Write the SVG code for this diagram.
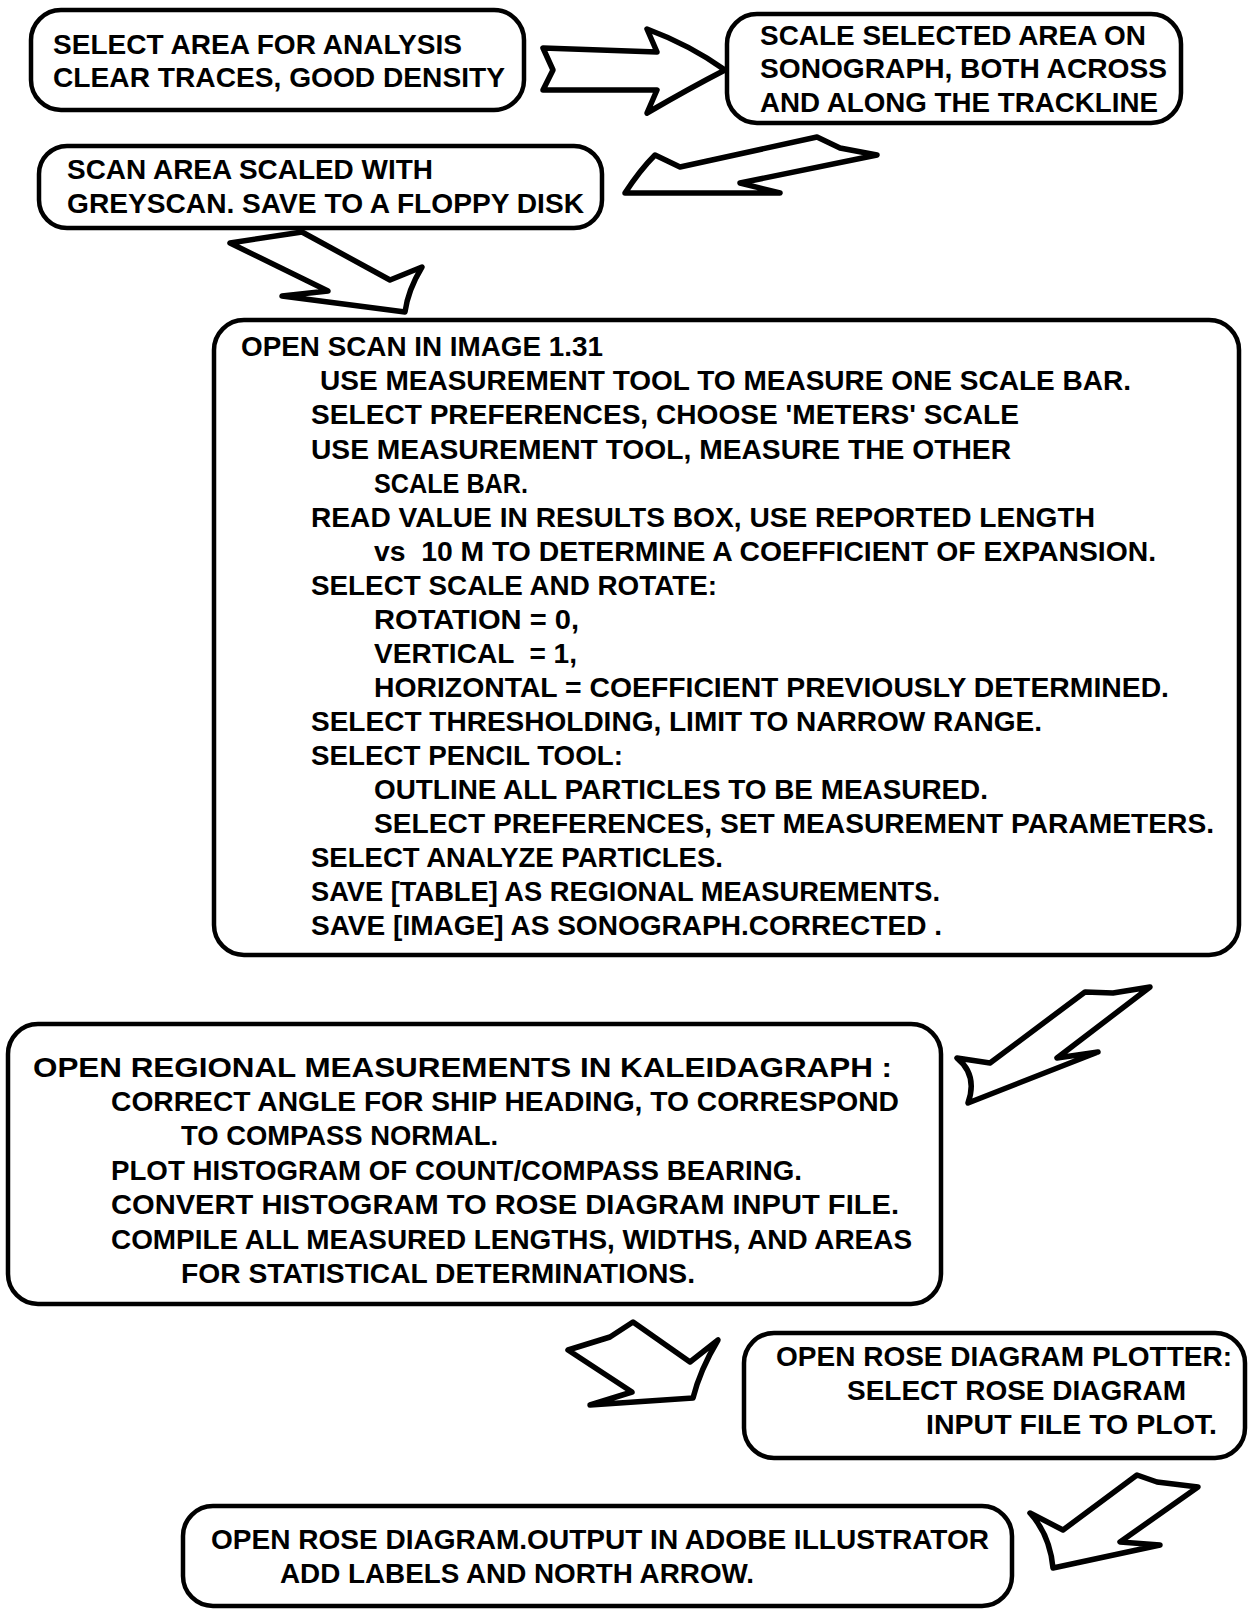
<svg xmlns="http://www.w3.org/2000/svg" width="1253" height="1610" viewBox="0 0 1253 1610">
<style>
.box{fill:#fff;stroke:#000;stroke-width:4.5}
.t{font-family:"Liberation Sans",Arial,sans-serif;font-weight:bold;font-size:28px;fill:#000}
.arr{fill:#fff;stroke:#000;stroke-width:5.5;stroke-linejoin:round}
</style>
<rect width="1253" height="1610" fill="#fff"/>
<g id="connectors">
<path class="arr" d="M543,48 L657,52 L647,29 Q690,45 725,70 Q690,88 647,113 L657,90 L543,90 L553,70 Z"/>
<path class="arr" d="M625,193 Q640,170 655,155 L680,167 L817,137 L840,148 L877,155 L740,183 L780,193 Z"/>
<path class="arr" d="M230,243 L302,232 L390,280 L422,267 Q408,290 405,312 L282,296 L328,291 Z"/>
<path class="arr" d="M968,1103 Q978,1075 957,1058 L990,1063 L1085,992 L1113,993 L1150,987 L1057,1058 L1098,1052 Z"/>
<path class="arr" d="M568,1350 L610,1337 L633,1322 L690,1362 L718,1340 Q700,1370 693,1398 L590,1405 L632,1392 Z"/>
<path class="arr" d="M1030,1513 L1063,1530 L1137,1475 L1157,1482 L1198,1487 L1120,1542 L1160,1545 L1053,1568 Q1050,1535 1030,1513 Z"/>
</g>
<g id="n1">
<rect class="box" x="31" y="10" width="493" height="100" rx="30"/>
<text class="t" x="53" y="54" textLength="409" lengthAdjust="spacingAndGlyphs">SELECT AREA FOR ANALYSIS</text>
<text class="t" x="53" y="87" textLength="452" lengthAdjust="spacingAndGlyphs">CLEAR TRACES, GOOD DENSITY</text>
</g>
<g id="n2">
<rect class="box" x="727" y="14" width="454" height="109" rx="30"/>
<text class="t" x="760" y="45" textLength="386" lengthAdjust="spacingAndGlyphs">SCALE SELECTED AREA ON</text>
<text class="t" x="760" y="78" textLength="407" lengthAdjust="spacingAndGlyphs">SONOGRAPH, BOTH ACROSS</text>
<text class="t" x="760" y="112" textLength="398" lengthAdjust="spacingAndGlyphs">AND ALONG THE TRACKLINE</text>
</g>
<g id="n3">
<rect class="box" x="39" y="146" width="563" height="82" rx="28"/>
<text class="t" x="67" y="179" textLength="366" lengthAdjust="spacingAndGlyphs">SCAN AREA SCALED WITH</text>
<text class="t" x="67" y="213" textLength="517" lengthAdjust="spacingAndGlyphs">GREYSCAN. SAVE TO A FLOPPY DISK</text>
</g>
<g id="n4">
<rect class="box" x="214" y="320" width="1025" height="635" rx="30"/>
<text class="t" x="241" y="356" textLength="362" lengthAdjust="spacingAndGlyphs">OPEN SCAN IN IMAGE 1.31</text>
<text class="t" x="320" y="390" textLength="811" lengthAdjust="spacingAndGlyphs">USE MEASUREMENT TOOL TO MEASURE ONE SCALE BAR.</text>
<text class="t" x="311" y="424" textLength="708" lengthAdjust="spacingAndGlyphs">SELECT PREFERENCES, CHOOSE 'METERS' SCALE</text>
<text class="t" x="311" y="459" textLength="700" lengthAdjust="spacingAndGlyphs">USE MEASUREMENT TOOL, MEASURE THE OTHER</text>
<text class="t" x="374" y="493" textLength="154" lengthAdjust="spacingAndGlyphs">SCALE BAR.</text>
<text class="t" x="311" y="527" textLength="784" lengthAdjust="spacingAndGlyphs">READ VALUE IN RESULTS BOX, USE REPORTED LENGTH</text>
<text class="t" x="374" y="561" textLength="782" lengthAdjust="spacingAndGlyphs" xml:space="preserve">vs  10 M TO DETERMINE A COEFFICIENT OF EXPANSION.</text>
<text class="t" x="311" y="595" textLength="406" lengthAdjust="spacingAndGlyphs">SELECT SCALE AND ROTATE:</text>
<text class="t" x="374" y="629" textLength="205" lengthAdjust="spacingAndGlyphs">ROTATION = 0,</text>
<text class="t" x="374" y="663" textLength="203" lengthAdjust="spacingAndGlyphs" xml:space="preserve">VERTICAL  = 1,</text>
<text class="t" x="374" y="697" textLength="795" lengthAdjust="spacingAndGlyphs">HORIZONTAL = COEFFICIENT PREVIOUSLY DETERMINED.</text>
<text class="t" x="311" y="731" textLength="731" lengthAdjust="spacingAndGlyphs">SELECT THRESHOLDING, LIMIT TO NARROW RANGE.</text>
<text class="t" x="311" y="765" textLength="312" lengthAdjust="spacingAndGlyphs">SELECT PENCIL TOOL:</text>
<text class="t" x="374" y="799" textLength="614" lengthAdjust="spacingAndGlyphs">OUTLINE ALL PARTICLES TO BE MEASURED.</text>
<text class="t" x="374" y="833" textLength="840" lengthAdjust="spacingAndGlyphs">SELECT PREFERENCES, SET MEASUREMENT PARAMETERS.</text>
<text class="t" x="311" y="867" textLength="412" lengthAdjust="spacingAndGlyphs">SELECT ANALYZE PARTICLES.</text>
<text class="t" x="311" y="901" textLength="629" lengthAdjust="spacingAndGlyphs">SAVE [TABLE] AS REGIONAL MEASUREMENTS.</text>
<text class="t" x="311" y="935" textLength="631" lengthAdjust="spacingAndGlyphs">SAVE [IMAGE] AS SONOGRAPH.CORRECTED .</text>
</g>
<g id="n5">
<rect class="box" x="8" y="1024" width="933" height="280" rx="30"/>
<text class="t" x="33" y="1077" textLength="859" lengthAdjust="spacingAndGlyphs">OPEN REGIONAL MEASUREMENTS IN KALEIDAGRAPH :</text>
<text class="t" x="111" y="1111" textLength="788" lengthAdjust="spacingAndGlyphs">CORRECT ANGLE FOR SHIP HEADING, TO CORRESPOND</text>
<text class="t" x="181" y="1145" textLength="317" lengthAdjust="spacingAndGlyphs">TO COMPASS NORMAL.</text>
<text class="t" x="111" y="1180" textLength="691" lengthAdjust="spacingAndGlyphs">PLOT HISTOGRAM OF COUNT/COMPASS BEARING.</text>
<text class="t" x="111" y="1214" textLength="788" lengthAdjust="spacingAndGlyphs">CONVERT HISTOGRAM TO ROSE DIAGRAM INPUT FILE.</text>
<text class="t" x="111" y="1249" textLength="801" lengthAdjust="spacingAndGlyphs">COMPILE ALL MEASURED LENGTHS, WIDTHS, AND AREAS</text>
<text class="t" x="181" y="1283" textLength="514" lengthAdjust="spacingAndGlyphs">FOR STATISTICAL DETERMINATIONS.</text>
</g>
<g id="n6">
<rect class="box" x="744" y="1333" width="501" height="125" rx="30"/>
<text class="t" x="776" y="1366" textLength="456" lengthAdjust="spacingAndGlyphs">OPEN ROSE DIAGRAM PLOTTER:</text>
<text class="t" x="847" y="1400" textLength="339" lengthAdjust="spacingAndGlyphs">SELECT ROSE DIAGRAM</text>
<text class="t" x="926" y="1434" textLength="291" lengthAdjust="spacingAndGlyphs">INPUT FILE TO PLOT.</text>
</g>
<g id="n7">
<rect class="box" x="183" y="1506" width="829" height="100" rx="30"/>
<text class="t" x="211" y="1549" textLength="778" lengthAdjust="spacingAndGlyphs">OPEN ROSE DIAGRAM.OUTPUT IN ADOBE ILLUSTRATOR</text>
<text class="t" x="280" y="1583" textLength="474" lengthAdjust="spacingAndGlyphs">ADD LABELS AND NORTH ARROW.</text>
</g>
</svg>
